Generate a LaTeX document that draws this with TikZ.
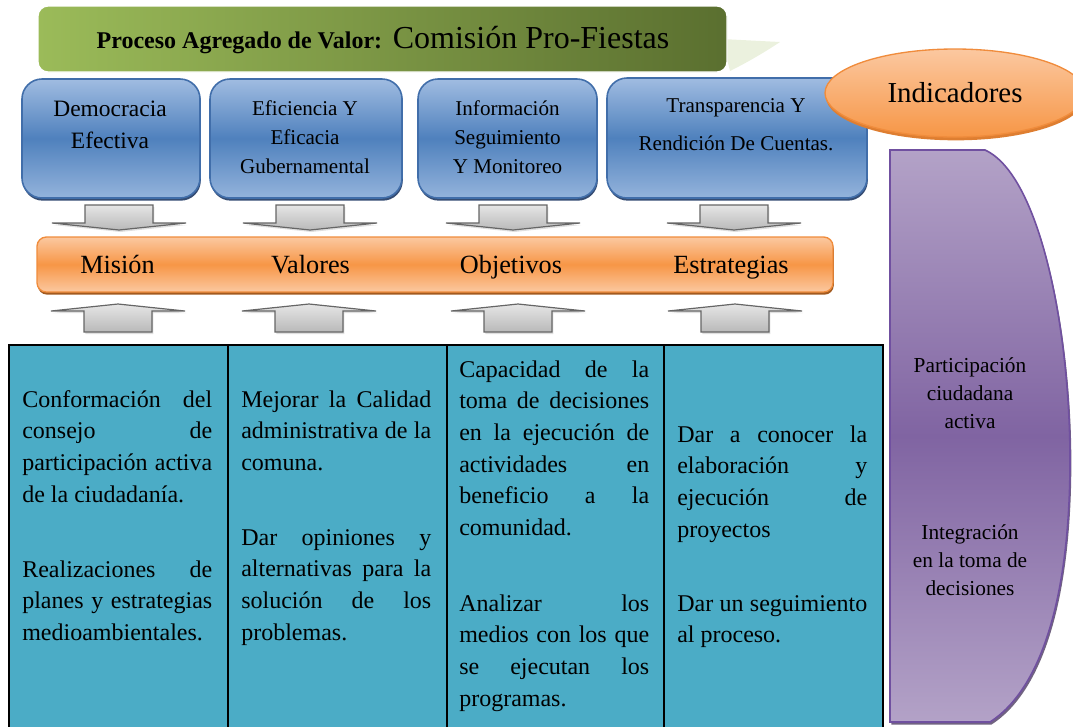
\documentclass[tikz,border=0pt]{standalone}
\usepackage{fontspec}
\setmainfont{Liberation Serif}
\usetikzlibrary{shapes.geometric}
\usetikzlibrary{shadows}

\hyphenpenalty=10000
\tolerance=10000

\definecolor{grnA}{RGB}{155,187,89}
\definecolor{grnB}{RGB}{79,98,40}
\definecolor{grnTail}{RGB}{235,241,222}
\definecolor{bluA}{RGB}{160,188,225}
\definecolor{bluB}{RGB}{79,129,189}
\definecolor{bluLine}{RGB}{65,110,170}
\definecolor{bluDark}{RGB}{31,56,100}
\definecolor{orgA}{RGB}{251,200,160}
\definecolor{orgB}{RGB}{247,150,70}
\definecolor{orgLine}{RGB}{240,140,60}
\definecolor{orgDark}{RGB}{152,72,7}
\definecolor{cellFill}{RGB}{75,172,198}
\definecolor{purA}{RGB}{179,162,199}
\definecolor{purB}{RGB}{128,100,162}
\definecolor{purLine}{RGB}{112,80,160}

\tikzset{
  banner/.style={draw=white, line width=1pt, rounded corners=7.5pt,
    left color=grnA, right color=grnB!85!grnA},
  bluebox/.style={draw=bluLine, line width=1.2pt, rounded corners=15pt,
    top color=bluA, bottom color=bluA!85!bluB, middle color=bluB,
    drop shadow={shadow xshift=0.6pt, shadow yshift=-2pt, fill=bluDark, opacity=0.9}},
  orangebar/.style={draw=orgLine, line width=1pt, rounded corners=7pt,
    top color=orgA, bottom color=orgA, middle color=orgB,
    drop shadow={shadow xshift=0.6pt, shadow yshift=-2pt, fill=orgDark, opacity=0.9}},
  indicbox/.style={ellipse, draw=orgLine, line width=1pt,
    top color=orgA, bottom color=orgB,
    drop shadow={shadow xshift=0.6pt, shadow yshift=-2.5pt, fill=orgLine!80!orgDark, opacity=1}},
  purshape/.style={draw=purLine, line width=1.2pt,
    top color=purA, bottom color=purA, middle color=purB,
    drop shadow={shadow xshift=1pt, shadow yshift=-2pt, fill=purB!60!black, opacity=0.8}},
  grayblock/.style={draw=gray!80!black, line width=0.9pt, top color=gray!20, bottom color=gray!55,
    drop shadow={shadow xshift=1pt, shadow yshift=-1.5pt, opacity=0.25}},
  cell/.style={draw=black, line width=1.5pt, fill=cellFill, anchor=north west,
    minimum height=297pt, inner sep=0pt},
  lbl/.style={inner sep=0pt, align=center},
  bartext/.style={inner sep=0pt, anchor=base, font=\fontsize{19.7}{24}\selectfont},
  celltext/.style={anchor=base west, inner sep=0pt, text width=142.5pt, align=justify,
    font=\fontsize{18}{23.75}\selectfont},
}

\begin{document}
\begin{tikzpicture}[x=0.75pt,y=-0.75pt]
\useasboundingbox (0,0) rectangle (1073,726);

% title banner
\fill[grnTail] (722,39) -- (780,42) .. controls (765,52) and (748,62) .. (730,71) -- cycle;
\node[banner, minimum width=516.75pt, minimum height=49.5pt] (title) at (382.5,39) {};
\node[lbl, font=\fontsize{24}{28}\selectfont] (titlelbl) at (383,40)
  {{\fontsize{18}{22}\selectfont\bfseries Proceso Agregado de Valor:} Comisión Pro-Fiestas};

% upper boxes
\node[bluebox, minimum width=133.5pt, minimum height=89.25pt] (demo) at (111,138.5) {};
\node[bluebox, minimum width=144pt, minimum height=89.25pt] (efic) at (306,138.5) {};
\node[bluebox, minimum width=134.25pt, minimum height=89.25pt] (info) at (507.5,138.5) {};
\node[bluebox, minimum width=195pt, minimum height=90pt] (trans) at (737,138) {};

\node[lbl, font=\fontsize{17.6}{24}\selectfont] (demolbl) at (110,125) {Democracia\\Efectiva};
\node[lbl, font=\fontsize{15.8}{21.75}\selectfont] (eficlbl) at (305,137) {Eficiencia Y\\Eficacia\\Gubernamental};
\node[lbl, font=\fontsize{15.8}{21.75}\selectfont] (infolbl) at (507.5,137) {Información\\Seguimiento\\Y Monitoreo};
\node[lbl, font=\fontsize{15.8}{28.5}\selectfont] (translbl) at (736,125) {Transparencia Y\\Rendición De Cuentas.};

% block arrows
\foreach \c in {119,310,513,734}
  \draw[grayblock] (\c-34,205) -- (\c+34,205) -- (\c+34,223) -- (\c+67,223) -- (\c,230)
    -- (\c-67,223) -- (\c-34,223) -- cycle;
\foreach \c in {118,309,518,735}
  \draw[grayblock] (\c,304) -- (\c+67,311) -- (\c+34,311) -- (\c+34,332) -- (\c-34,332)
    -- (\c-34,311) -- (\c-67,311) -- cycle;

% middle bar
\node[orangebar, minimum width=597pt, minimum height=41.25pt] (bar) at (435,264.5) {};
\node[bartext] (mision) at (117.5,273) {Misión};
\node[bartext] (valores) at (310.5,273) {Valores};
\node[bartext] (objetivos) at (511,273) {Objetivos};
\node[bartext] (estrategias) at (731,273) {Estrategias};

% table
\node[cell, minimum width=164.6pt] (cellA) at (7.5,344) {};
\node[cell, minimum width=164.25pt] (cellB) at (227,344) {};
\node[cell, minimum width=162.75pt] (cellC) at (446,344) {};
\node[cell, minimum width=164.25pt] (cellD) at (663,344) {};

\node[celltext] (txtA1) at (22,407) {Conformación del\linebreak consejo de\linebreak participación activa\linebreak de la ciudadanía.};
\node[celltext] (txtA2) at (22,577) {Realizaciones de\linebreak planes y estrategias\linebreak medioambientales.};
\node[celltext] (txtB1) at (241,407) {Mejorar la Calidad\linebreak administrativa de la\linebreak comuna.};
\node[celltext] (txtB2) at (241,545) {Dar opiniones y\linebreak alternativas para la\linebreak solución de los\linebreak problemas.};
\node[celltext] (txtC1) at (459,377) {Capacidad de la\linebreak toma de decisiones\linebreak en la ejecución de\linebreak actividades en\linebreak beneficio a la\linebreak comunidad.};
\node[celltext] (txtC2) at (459,611) {Analizar los\linebreak medios con los que\linebreak se ejecutan los\linebreak programas.};
\node[celltext] (txtD1) at (677,442) {Dar a conocer la\linebreak elaboración y\linebreak ejecución de\linebreak proyectos};
\node[celltext] (txtD2) at (677,611) {Dar un seguimiento\linebreak al proceso.};

% indicators column
\draw[purshape] (890,150) -- (985,150) .. controls (1040,175) and (1070,330) .. (1070,460)
  .. controls (1070,600) and (1040,690) .. (990,722) -- (890,722) -- cycle;
\node[lbl, font=\fontsize{16}{21}\selectfont] (partic) at (970,393) {Participación\\ciudadana\\activa};
\node[lbl, font=\fontsize{16}{21}\selectfont] (integ) at (970,560) {Integración\\en la toma de\\decisiones};

\node[indicbox, minimum width=195pt, minimum height=66pt, inner sep=0pt,
  font=\fontsize{21.7}{26}\selectfont] (indic) at (955,93) {Indicadores};
\end{tikzpicture}
\end{document}
